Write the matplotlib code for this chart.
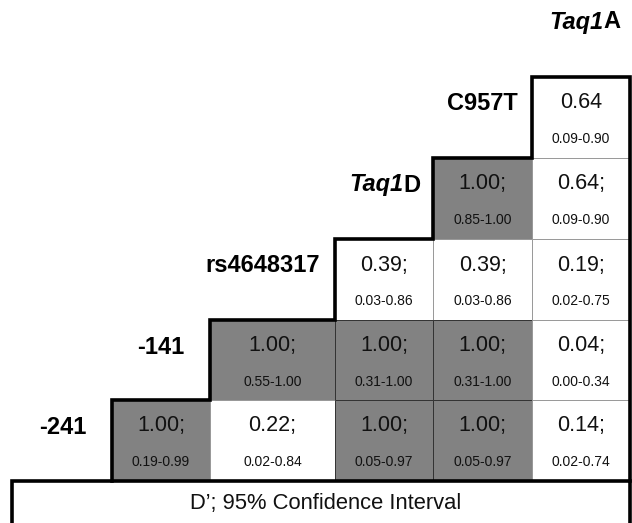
import matplotlib
matplotlib.use("Agg")
import matplotlib.pyplot as plt
from matplotlib.patches import Rectangle

plt.rcParams['font.family'] = ['Liberation Sans', 'DejaVu Sans']

# SNPs along the top (columns, left to right) and down the side (rows, top to bottom)
col_snps = ['-141', 'rs4648317', 'Taq1D', 'C957T', 'Taq1A']
row_snps = ['C957T', 'Taq1D', 'rs4648317', '-141', '-241']

# pairwise D' and 95% CI, one list per row, starting at the first filled column
dprime = [
    [0.64],
    [1.00, 0.64],
    [0.39, 0.39, 0.19],
    [1.00, 1.00, 1.00, 0.04],
    [1.00, 0.22, 1.00, 1.00, 0.14],
]
ci_low = [
    [0.09],
    [0.85, 0.09],
    [0.03, 0.03, 0.02],
    [0.55, 0.31, 0.31, 0.00],
    [0.19, 0.02, 0.05, 0.05, 0.02],
]
ci_high = [
    [0.90],
    [1.00, 0.90],
    [0.86, 0.86, 0.75],
    [1.00, 1.00, 1.00, 0.34],
    [0.99, 0.84, 0.97, 0.97, 0.74],
]
legend_text = "D\u2019; 95% Confidence Interval"

# grid layout in pixels (x edges include a spare column left of -241's label)
x_edges = [14, 112, 210, 335, 433, 532, 630]
y_edges = [77, 158, 239, 320, 400, 481]
gray = '#828282'
thick = 2.6

fig = plt.figure(figsize=(6.32, 5.23), dpi=100)
ax = fig.add_axes([0, 0, 1, 1])
ax.set_xlim(0, 632)
ax.set_ylim(523, 0)
ax.axis('off')

n = len(col_snps)


def gene_label(xc, y, name, x_right=None):
    # Taq1 in bold italic, the trailing letter upright
    if name.startswith('Taq1'):
        fs = 17
        em = fs * 100 / 72
        xj = xc + 0.806 * em
        t = ax.text(xj, y, 'Taq1', fontsize=fs, fontweight='bold', style='italic',
                    ha='right', va='center')
        ax.annotate(name[4:], xy=(1, 0.5), xycoords=t, fontsize=fs, fontweight='bold',
                    ha='left', va='center')
    elif x_right is not None:
        ax.text(x_right, y, name, fontsize=17, fontweight='bold', ha='right', va='center')
    else:
        ax.text(xc, y, name, fontsize=17, fontweight='bold', ha='center', va='center')


for i, row in enumerate(row_snps):
    first = n - len(dprime[i])
    y0, y1 = y_edges[i], y_edges[i + 1]
    for k, d in enumerate(dprime[i]):
        j = first + k
        x0, x1 = x_edges[j + 1], x_edges[j + 2]
        fc = gray if d >= 1.0 else 'white'
        ec = '#333333' if d >= 1.0 else '#999999'
        ax.add_patch(Rectangle((x0, y0), x1 - x0, y1 - y0, facecolor=fc,
                               edgecolor=ec, linewidth=0.7, zorder=1))
        sep = '' if i == 0 else ';'
        ax.text((x0 + x1) / 2, y0 + 26, f'{d:.2f}{sep}', fontsize=15.5,
                ha='center', va='center', color='#111111', zorder=3)
        ax.text((x0 + x1) / 2, y0 + 62, f'{ci_low[i][k]:.2f}-{ci_high[i][k]:.2f}',
                fontsize=10, ha='center', va='center', color='#111111', zorder=3)
    # row label sits in the column left of the first cell; long names hug the outline
    xr = x_edges[first + 1] - 15 if len(row) > 6 else None
    gene_label((x_edges[first] + x_edges[first + 1]) / 2, y0 + 27, row, xr)

# last column name on top
gene_label((x_edges[-2] + x_edges[-1]) / 2 + 3, 22, col_snps[-1])

# heavy staircase outline
sx, sy = [x_edges[1]], [y_edges[-1]]
for i in range(len(row_snps) - 1, -1, -1):
    first = n - len(dprime[i])
    sx += [x_edges[first + 1], x_edges[first + 2]]
    sy += [y_edges[i], y_edges[i]]
sx[-1] = x_edges[-1]
sx += [x_edges[-1]]
sy += [y_edges[-1]]
ax.plot(sx, sy, color='black', linewidth=thick, solid_joinstyle='miter',
        solid_capstyle='projecting', zorder=4)

# legend box below the grid, running off the bottom edge
ax.plot([x_edges[0] - 2, x_edges[0] - 2, x_edges[-1], x_edges[-1]],
        [540, y_edges[-1], y_edges[-1], 540], color='black', linewidth=thick,
        solid_joinstyle='miter', zorder=4)
ax.text((x_edges[0] + x_edges[-1]) / 2 + 4, 503, legend_text, fontsize=15.8,
        ha='center', va='center', color='#111111')

fig.savefig('out.png', dpi=100)
